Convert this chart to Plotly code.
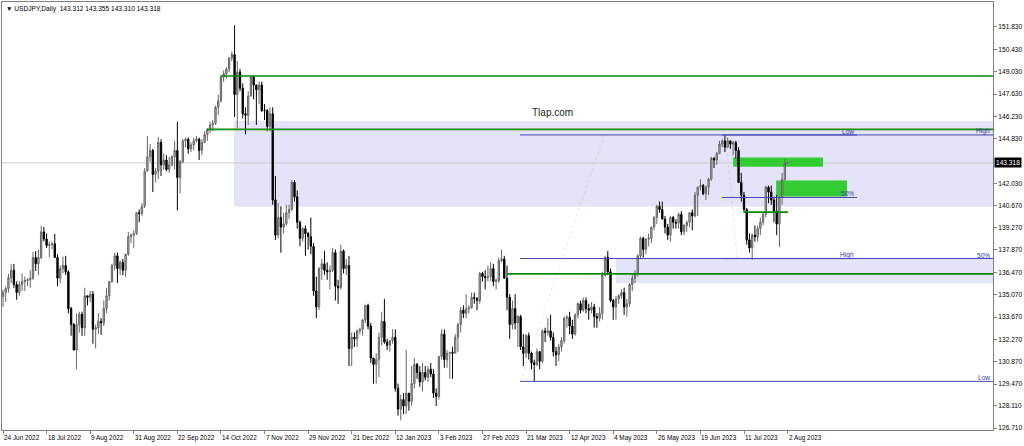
import plotly.graph_objects as go

# ---------------- data ----------------
chart_title = "\u25bc USDJPY,Daily  143.312 143.355 143.310 143.318"
watermark = "Tlap.com"

opens = [
    134.95,135.22,135.45,136.13,136.60,135.70,135.20,135.70,135.90,135.95,
    136.00,136.10,137.40,137.00,137.40,139.00,138.55,138.15,138.20,138.25,
    137.40,136.10,136.70,136.90,136.50,134.20,133.20,131.60,133.20,133.85,
    133.00,135.00,134.90,135.10,132.90,133.00,133.40,133.30,134.20,135.00,
    135.90,136.90,137.50,136.70,137.10,136.60,137.60,138.70,138.80,138.90,
    140.20,140.15,140.60,142.80,143.70,144.10,142.60,142.80,144.60,143.20,
    143.50,142.90,143.20,143.70,144.10,142.40,143.40,144.70,144.80,144.20,
    144.45,144.70,144.80,144.10,144.60,145.10,145.40,145.70,145.80,146.80,
    147.20,148.70,148.90,149.20,149.90,150.10,147.60,149.00,148.00,146.40,
    146.30,147.50,148.70,148.20,147.90,148.20,146.60,146.60,145.60,146.40,
    141.00,138.80,139.90,139.30,139.50,140.20,140.40,142.10,141.20,139.60,
    138.60,139.20,138.90,138.70,138.10,135.30,134.30,136.70,137.00,136.60,
    136.50,136.60,137.70,135.60,135.50,137.80,136.70,136.90,131.70,132.40,
    132.30,132.80,132.90,133.50,134.40,133.10,131.10,130.70,131.00,132.40,
    133.40,132.10,131.90,132.20,132.40,129.20,127.90,128.50,128.10,128.90,
    128.40,129.50,130.70,130.20,129.60,130.20,129.90,130.40,130.10,128.90,
    128.70,131.20,132.60,131.00,131.40,131.45,131.40,132.40,133.20,134.10,
    133.90,134.20,134.25,134.90,134.85,134.70,136.40,136.20,136.15,136.20,
    136.70,135.90,135.95,137.20,137.30,136.10,134.90,133.20,134.20,133.30,
    133.70,131.80,131.40,132.50,131.40,130.80,130.70,131.50,130.90,132.80,
    132.70,132.80,132.40,131.50,131.30,131.80,132.20,133.60,133.65,133.10,
    132.60,133.80,134.50,134.10,134.70,134.20,134.10,134.30,133.70,133.60,
    133.90,136.30,137.40,136.50,134.70,134.30,134.80,135.00,135.20,134.30,
    134.50,135.70,136.10,136.40,137.50,138.60,137.90,138.55,138.60,139.30,
    139.90,140.60,140.40,139.80,139.30,138.80,139.90,139.60,139.55,140.10,
    139.00,139.40,139.60,140.20,140.00,141.30,141.80,141.90,141.40,141.80,
    142.30,143.60,143.50,143.90,144.50,144.70,144.30,144.70,144.50,144.60,
    144.10,142.10,141.30,140.40,138.50,138.00,138.80,138.70,139.20,139.60,
    140.10,141.80,141.50,141.00,140.30,139.50,141.20,142.30,143.312,
]
highs = [
    135.38,135.60,136.38,137.00,137.00,135.90,135.90,136.40,136.20,136.10,
    136.60,137.75,137.80,137.90,139.38,139.30,138.90,138.40,138.40,138.88,
    137.60,136.90,137.45,137.50,136.60,134.30,133.30,133.90,134.00,134.00,
    135.50,135.00,135.30,135.30,133.20,133.90,133.60,134.70,135.50,135.90,
    137.00,137.70,137.70,137.20,137.30,137.60,139.00,138.90,139.10,140.20,
    140.40,140.80,143.00,144.99,144.50,144.20,143.00,144.95,144.80,143.90,
    143.80,143.70,143.80,144.70,145.90,143.50,144.80,144.90,144.90,144.60,
    144.90,145.00,144.90,144.80,145.30,145.50,145.90,146.00,146.90,147.60,
    148.80,149.10,149.30,149.90,150.30,151.94,149.70,149.20,148.30,146.80,
    147.80,148.80,148.80,148.20,148.40,148.40,147.00,146.70,146.80,146.80,
    142.50,140.80,140.60,140.20,140.70,140.70,142.25,142.25,141.60,139.70,
    139.30,139.40,139.00,139.90,138.30,136.20,136.80,137.30,137.80,137.10,
    136.90,138.00,137.90,136.00,138.20,137.90,137.30,137.50,132.70,132.70,
    132.90,133.00,133.50,134.40,134.50,133.30,131.10,131.40,132.70,134.00,
    134.80,132.30,132.20,132.90,132.90,129.50,128.80,128.90,131.60,128.90,
    130.60,131.10,130.80,130.60,130.80,130.60,130.60,130.80,130.40,129.20,
    131.20,132.90,132.90,131.60,131.50,131.80,132.60,133.30,134.30,134.40,
    135.10,134.40,135.20,135.20,134.90,136.50,136.50,136.60,136.90,137.10,
    137.00,136.10,137.40,137.90,137.50,136.90,135.10,134.70,135.10,133.80,
    133.80,132.60,132.60,132.70,131.50,131.00,131.70,131.50,132.90,133.00,
    133.60,133.80,132.70,131.80,132.00,132.40,133.70,133.80,134.00,133.50,
    133.90,134.60,134.70,134.90,134.90,134.50,134.60,134.50,133.90,134.30,
    136.50,137.50,137.80,136.70,134.80,135.00,135.10,135.40,135.50,134.80,
    135.80,136.30,136.60,137.60,138.70,138.70,138.60,138.90,139.30,140.00,
    140.70,140.90,140.90,140.00,139.50,140.00,140.00,139.80,140.20,140.30,
    139.50,139.70,140.20,140.40,141.50,141.80,142.30,142.00,141.90,142.40,
    143.70,143.70,144.00,144.70,144.80,145.07,144.90,144.70,144.70,144.70,
    144.30,142.70,141.50,140.50,138.90,138.90,139.40,139.40,139.90,140.20,
    141.90,141.90,141.90,141.20,141.30,141.10,142.70,143.55,143.355,
]
lows = [
    134.30,134.60,135.20,135.80,135.50,134.75,135.00,135.30,135.30,135.60,
    135.50,136.00,136.55,136.30,137.30,138.40,138.00,137.40,137.90,137.40,
    135.60,135.80,136.40,136.30,133.90,132.50,131.60,130.40,132.70,132.50,
    132.50,134.40,134.60,132.00,131.70,132.60,132.55,133.10,133.90,134.70,
    135.80,136.60,135.80,136.30,136.30,136.20,137.50,138.30,138.00,138.80,
    139.60,140.00,140.50,142.80,143.40,141.50,142.10,142.30,142.50,142.90,
    142.80,142.70,143.10,142.90,140.35,141.40,143.30,144.30,143.90,144.00,
    144.10,144.60,143.50,143.80,144.60,144.70,145.20,145.30,145.70,146.30,
    147.10,148.40,148.60,149.00,149.70,146.20,145.50,147.80,146.10,145.10,
    145.70,147.50,147.30,145.70,147.00,146.50,146.00,145.30,145.30,140.70,
    138.50,138.60,137.70,138.90,139.40,139.80,140.30,140.90,139.20,138.10,
    138.40,137.50,137.90,137.60,135.00,133.60,134.10,136.00,136.30,136.00,
    135.40,136.50,134.70,134.50,135.40,136.40,136.30,130.60,130.60,131.80,
    131.80,132.60,132.50,133.30,132.90,130.80,129.50,129.50,129.90,131.90,
    132.00,131.60,131.50,132.00,129.00,127.50,127.20,127.60,127.60,127.80,
    128.10,129.20,129.80,129.30,129.00,129.70,129.60,129.90,128.60,128.10,
    128.50,131.00,130.50,130.50,129.80,129.80,131.40,131.50,132.70,133.60,
    133.60,133.90,134.20,134.50,134.10,134.50,135.90,135.40,135.90,135.90,
    135.60,135.40,135.80,137.10,136.10,134.10,132.30,132.90,132.90,131.80,
    131.60,130.60,131.10,131.00,130.40,129.64,130.60,130.40,130.80,132.10,
    132.50,132.20,131.20,130.60,130.90,131.50,132.00,133.00,132.60,132.30,
    132.50,133.60,133.90,134.00,133.90,133.50,133.90,133.00,133.00,133.40,
    133.50,136.20,136.30,134.60,133.50,133.50,134.50,134.80,133.80,133.70,
    134.30,135.30,135.80,136.20,137.30,137.40,137.60,138.10,138.30,139.10,
    139.50,140.20,139.80,138.90,138.50,138.40,139.20,139.20,139.20,138.80,
    138.80,139.00,139.30,139.10,139.90,140.00,141.60,141.30,141.00,141.30,
    142.20,143.00,143.20,143.90,144.30,144.00,144.30,144.20,143.80,143.60,
    142.10,140.90,140.20,138.20,137.70,137.24,138.40,138.40,138.80,139.40,
    139.90,140.80,140.70,139.60,138.80,138.05,140.70,142.20,143.310,
]
closes = [
    135.22,135.45,136.13,136.60,135.70,135.20,135.70,135.90,135.95,136.00,
    136.10,137.40,137.00,137.40,139.00,138.55,138.15,138.20,138.25,137.40,
    136.10,136.70,136.90,136.50,134.20,133.20,131.60,133.20,133.85,133.00,
    135.00,134.90,135.10,132.90,133.00,133.40,133.30,134.20,135.00,135.90,
    136.90,137.50,136.70,137.10,136.60,137.60,138.70,138.80,138.90,140.20,
    140.15,140.60,142.80,143.70,144.10,142.60,142.80,144.60,143.20,143.50,
    142.90,143.20,143.70,144.10,142.40,143.40,144.70,144.80,144.20,144.45,
    144.70,144.80,144.10,144.60,145.10,145.40,145.70,145.80,146.80,147.20,
    148.70,148.90,149.20,149.90,150.10,147.60,149.00,148.00,146.40,146.30,
    147.50,148.70,148.20,147.90,148.20,146.60,146.60,145.60,146.40,141.00,
    138.80,139.90,139.30,139.50,140.20,140.40,142.10,141.20,139.60,138.60,
    139.20,138.90,138.70,138.10,135.30,134.30,136.70,137.00,136.60,136.50,
    136.60,137.70,135.60,135.50,137.80,136.70,136.90,131.70,132.40,132.30,
    132.80,132.90,133.50,134.40,133.10,131.10,130.70,131.00,132.40,133.40,
    132.10,131.90,132.20,132.40,129.20,127.90,128.50,128.10,128.90,128.40,
    129.50,130.70,130.20,129.60,130.20,129.90,130.40,130.10,128.90,128.70,
    131.20,132.60,131.00,131.40,131.45,131.40,132.40,133.20,134.10,133.90,
    134.20,134.25,134.90,134.85,134.70,136.40,136.20,136.15,136.20,136.70,
    135.90,135.95,137.20,137.30,136.10,134.90,133.20,134.20,133.30,133.70,
    131.80,131.40,132.50,131.40,130.80,130.70,131.50,130.90,132.80,132.70,
    132.80,132.40,131.50,131.30,131.80,132.20,133.60,133.65,133.10,132.60,
    133.80,134.50,134.10,134.70,134.20,134.10,134.30,133.70,133.60,133.90,
    136.30,137.40,136.50,134.70,134.30,134.80,135.00,135.20,134.30,134.50,
    135.70,136.10,136.40,137.50,138.60,137.90,138.55,138.60,139.30,139.90,
    140.60,140.40,139.80,139.30,138.80,139.90,139.60,139.55,140.10,139.00,
    139.40,139.60,140.20,140.00,141.30,141.80,141.90,141.40,141.80,142.30,
    143.60,143.50,143.90,144.50,144.70,144.30,144.70,144.50,144.60,144.10,
    142.10,141.30,140.40,138.50,138.00,138.80,138.70,139.20,139.60,140.10,
    141.80,141.50,141.00,140.30,139.50,141.20,142.30,143.31,143.318,
]

date_labels = ["24 Jun 2022", "18 Jul 2022", "9 Aug 2022", "31 Aug 2022", "22 Sep 2022",
               "14 Oct 2022", "7 Nov 2022", "29 Nov 2022", "21 Dec 2022", "12 Jan 2023",
               "3 Feb 2023", "27 Feb 2023", "21 Mar 2023", "12 Apr 2023", "4 May 2023",
               "26 May 2023", "19 Jun 2023", "11 Jul 2023", "2 Aug 2023"]
date_label_bars = [0, 16, 32, 48, 64, 80, 96, 112, 128, 144, 160, 176, 192, 208, 224,
                   240, 256, 272, 288]

price_ticks = [151.83, 150.43, 149.03, 147.63, 146.23, 144.83, 142.03, 140.67, 139.27,
               137.87, 136.47, 135.07, 133.67, 132.27, 130.87, 129.47, 128.11, 126.71]
current_price = 143.318

# drawn objects: (start bar, end bar or None=right edge, price ...)
green_levels = [(80.0, None, 148.76), (74.9, None, 145.42), (185.0, None, 136.37),
                (272.0, 288.2, 140.24)]
zones = [(84.8, None, 140.57, 145.94), (225.0, None, 135.78, 137.40)]
fvg_boxes = [(268.0, 301.0, 143.08, 143.66), (283.8, 309.8, 141.22, 142.22)]
fib_big = {"start": 189.8, "end": None,
           "levels": [(145.07, "High"), (137.33, "50%"), (129.64, "Low")]}
fib_small = {"start": 263.9, "end": 313.5,
             "levels": [(145.07, "Low"), (141.155, "50%"), (137.33, "High")]}
fib_baselines = [((189.9, 129.64), (220.7, 145.07)), ((265.2, 145.07), (269.5, 137.33))]
text_anchor = (193.5, 146.45)

# ---------------- figure ----------------
n = len(closes)
assert len(opens) == n and len(highs) == n and len(lows) == n
bars = list(range(n))
x_range = [-0.37, 363.4]
y_range = [126.595, 153.395]
right_edge = x_range[1]

FONT = "Liberation Sans, Arial, sans-serif"
BLUE = "#4646b4"
LABEL_BLUE = "#3a3aa8"
GREEN = "#078a07"

fig = go.Figure()

shapes = []
for x0, x1, lo, hi in zones:
    shapes.append(dict(type="rect", xref="x", yref="y", x0=x0, x1=right_edge if x1 is None else x1,
                       y0=lo, y1=hi, fillcolor="rgb(228,228,248)", line=dict(width=0), layer="below"))
shapes.append(dict(type="line", xref="x", yref="y", x0=x_range[0], x1=right_edge,
                   y0=current_price, y1=current_price, line=dict(color="#c8c8c8", width=1), layer="below"))
for x0, x1, lo, hi in fvg_boxes:
    shapes.append(dict(type="rect", xref="x", yref="y", x0=x0, x1=x1, y0=lo, y1=hi,
                       fillcolor="#33cc33", line=dict(width=0), layer="below"))
for (a, b) in fib_baselines:
    shapes.append(dict(type="line", xref="x", yref="y", x0=a[0], y0=a[1], x1=b[0], y1=b[1],
                       line=dict(color="rgba(255,140,160,0.32)", width=1, dash="dot"), layer="below"))
for x0, x1, p in green_levels:
    shapes.append(dict(type="line", xref="x", yref="y", x0=x0, x1=right_edge if x1 is None else x1,
                       y0=p, y1=p, line=dict(color=GREEN, width=1.6), layer="above"))
for fib in (fib_big, fib_small):
    x1 = right_edge if fib["end"] is None else fib["end"]
    for p, _ in fib["levels"]:
        shapes.append(dict(type="line", xref="x", yref="y", x0=fib["start"], x1=x1,
                           y0=p, y1=p, line=dict(color=BLUE, width=1), layer="above"))

fig.add_trace(go.Candlestick(
    x=bars, open=opens, high=highs, low=lows, close=closes,
    increasing=dict(line=dict(color="#666666", width=1), fillcolor="#b4b4b4"),
    decreasing=dict(line=dict(color="#000000", width=1), fillcolor="#000000"),
    whiskerwidth=0, hoverinfo="skip", showlegend=False,
))

annotations = []
annotations.append(dict(xref="paper", yref="paper", x=0, y=1, xanchor="left", yanchor="top",
                        xshift=2, yshift=-1, text=chart_title, showarrow=False,
                        font=dict(family=FONT, size=6.6, color="#000")))
annotations.append(dict(xref="x", yref="y", x=text_anchor[0], y=text_anchor[1], xanchor="left",
                        yanchor="middle", text=watermark, showarrow=False,
                        font=dict(family=FONT, size=10, color="#222")))
for fib in (fib_big, fib_small):
    x1 = right_edge if fib["end"] is None else fib["end"]
    for p, lab in fib["levels"]:
        annotations.append(dict(xref="x", yref="y", x=x1, y=p, xanchor="right", yanchor="bottom",
                                text=lab, showarrow=False, xshift=-1, yshift=-2,
                                font=dict(family=FONT, size=6.6, color=LABEL_BLUE)))
for b, lab in zip(date_label_bars, date_labels):
    annotations.append(dict(xref="x", yref="paper", x=b, y=0, xanchor="left", yanchor="top",
                            text=lab, showarrow=False, xshift=-1, yshift=-2,
                            font=dict(family=FONT, size=6.4, color="#000")))
annotations.append(dict(xref="paper", yref="y", x=1, y=current_price, xanchor="left", yanchor="middle",
                        text="143.318", showarrow=False, bgcolor="#000000", borderpad=1, xshift=1,
                        font=dict(family=FONT, size=6.6, color="#ffffff")))

fig.update_layout(
    width=1024, height=446,
    margin=dict(l=2, r=31, t=2, b=16),
    paper_bgcolor="white", plot_bgcolor="white",
    shapes=shapes, annotations=annotations,
    showlegend=False,
    xaxis=dict(range=x_range, rangeslider=dict(visible=False), showgrid=False, zeroline=False,
               showline=True, mirror=True, linecolor="#808080", linewidth=1,
               tickmode="array", tickvals=date_label_bars, ticktext=[""] * len(date_label_bars),
               ticks="outside", ticklen=3, tickcolor="#808080", fixedrange=True),
    yaxis=dict(range=y_range, side="right", showgrid=False, zeroline=False,
               showline=True, mirror=True, linecolor="#808080", linewidth=1,
               tickmode="array", tickvals=price_ticks, ticktext=[f"{v:.3f}" for v in price_ticks],
               ticks="outside", ticklen=3, tickcolor="#808080",
               tickfont=dict(family=FONT, size=6.6, color="#000"), fixedrange=True),
)

fig.write_html("out.html", config={"displayModeBar": False},
               post_script="document.body.style.margin='0';document.body.style.padding='0';"
                           "document.body.style.overflow='hidden';")
